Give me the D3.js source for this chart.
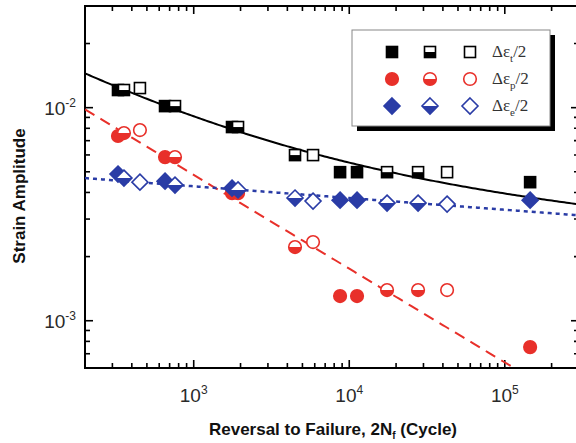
<!DOCTYPE html>
<html><head><meta charset="utf-8">
<script src="https://cdn.jsdelivr.net/npm/d3@7"></script>
<style>body{margin:0;background:#fff}svg{display:block}</style>
</head><body><svg id="c" width="576" height="443"></svg>
<script>
// ---- data ----
const cycles        = [326, 356, 451, 654, 758, 1763, 1927, 4480, 5850, 8730, 11220, 17500, 27700, 42560, 145500];
const markerFill    = ["filled","half","open","filled","half","filled","half","half","open","filled","filled","half","half","open","filled"];
const totalStrain   = [0.0121, 0.0121, 0.01236, 0.01017, 0.01017, 0.00811, 0.00811, 0.00599, 0.00599, 0.00498, 0.00498, 0.00498, 0.00498, 0.00498, 0.00447];
const plasticStrain = [0.00736, 0.0076, 0.00785, 0.00586, 0.00586, 0.00397, 0.00397, 0.002216, 0.00234, 0.001305, 0.001305, 0.001393, 0.001393, 0.001393, 0.000752];
const elasticStrain = [0.00488, 0.00467, 0.00447, 0.00452, 0.00433, 0.00419, 0.00411, 0.003765, 0.003643, 0.00368, 0.00368, 0.003565, 0.003565, 0.003527, 0.00368];
// fitted Basquin / Coffin-Manson parameters
const elasticCoef = 0.00625, elasticExp = -0.055;
const plasticCoef = 0.101,   plasticExp = -0.44;
const xTickLabels = [3, 4, 5];
const yTickLabels = [-3, -2];
const legendLabels = ["t", "p", "e"];

const m = {left: 85, top: 6, right: 579, bottom: 368};
const svg = d3.select("#c");
const x = d3.scaleLog().domain([200, 3e5]).range([m.left, m.right]);
const y = d3.scaleLog().domain([6e-4, 3e-2]).range([m.bottom, m.top]);

const RED = "#e8302a", BLUE = "#2a3ca6";

svg.append("clipPath").attr("id","clip").append("rect")
  .attr("x", m.left).attr("y", m.top).attr("width", m.right - m.left).attr("height", m.bottom - m.top);

function minorMajor(domain){
  const out = [];
  for (let e = Math.floor(Math.log10(domain[0])); e <= Math.ceil(Math.log10(domain[1])); e++){
    for (let k = 1; k <= 9; k++){
      const v = k * Math.pow(10, e);
      if (v >= domain[0]*0.999 && v <= domain[1]*1.001) out.push({v, major: k === 1});
    }
  }
  return out;
}
const axes = svg.append("g").attr("stroke","#000").attr("stroke-width",1.6);
minorMajor(x.domain()).forEach(t => {
  const px = x(t.v), L = t.major ? 8 : 5;
  axes.append("line").attr("x1",px).attr("x2",px).attr("y1",m.bottom).attr("y2",m.bottom-L);
  axes.append("line").attr("x1",px).attr("x2",px).attr("y1",m.top).attr("y2",m.top+L);
});
minorMajor(y.domain()).forEach(t => {
  const py = y(t.v), L = t.major ? 8 : 5;
  axes.append("line").attr("y1",py).attr("y2",py).attr("x1",m.left).attr("x2",m.left+L);
  axes.append("line").attr("y1",py).attr("y2",py).attr("x1",m.right).attr("x2",m.right-L);
});
svg.append("rect").attr("x",m.left).attr("y",m.top).attr("width",m.right-m.left).attr("height",m.bottom-m.top)
  .attr("fill","none").attr("stroke","#000").attr("stroke-width",2);

const tl = svg.append("g").attr("font-family","'Liberation Sans', Arial, sans-serif").attr("fill","#2a2a2a");
xTickLabels.forEach(e => {
  const t = tl.append("text").attr("x", x(Math.pow(10,e))).attr("y", 402).attr("text-anchor","middle").attr("font-size",19);
  t.append("tspan").text("10");
  t.append("tspan").attr("dy",-8).attr("font-size",12).text(e);
});
yTickLabels.forEach(e => {
  const t = tl.append("text").attr("x", 76).attr("y", y(Math.pow(10,e)) + 7).attr("text-anchor","end").attr("font-size",19);
  t.append("tspan").text("10");
  t.append("tspan").attr("dy",-8).attr("font-size",12).text(e);
});

const xt = svg.append("text").attr("x", 333).attr("y", 435).attr("text-anchor","middle")
  .attr("font-family","'Liberation Sans', Arial, sans-serif").attr("font-weight","bold").attr("font-size",17).attr("fill","#111");
xt.append("tspan").text("Reversal to Failure, 2N");
xt.append("tspan").attr("dy",4).attr("font-size",10).text("f");
xt.append("tspan").attr("dy",-4).text(" (Cycle)");
svg.append("text").attr("transform","translate(25,196) rotate(-90)").attr("text-anchor","middle")
  .attr("font-family","'Liberation Sans', Arial, sans-serif").attr("font-weight","bold").attr("font-size",17).attr("fill","#111")
  .text("Strain Amplitude");

const Ns = d3.range(0, 201).map(i => Math.pow(10, Math.log10(200) + i*(Math.log10(3e5)-Math.log10(200))/200));
const elastic = N => elasticCoef * Math.pow(N, elasticExp);
const plastic = N => plasticCoef * Math.pow(N, plasticExp);
const lineG = svg.append("g").attr("clip-path","url(#clip)").attr("fill","none");
const gen = f => d3.line().x(N => x(N)).y(N => y(f(N)))(Ns);
lineG.append("path").attr("d", gen(plastic)).attr("stroke",RED).attr("stroke-width",2).attr("stroke-dasharray","11,7");
lineG.append("path").attr("d", gen(elastic)).attr("stroke",BLUE).attr("stroke-width",2.5).attr("stroke-dasharray","4,4");
lineG.append("path").attr("d", gen(N => elastic(N)+plastic(N))).attr("stroke","#000").attr("stroke-width",2);

function square(g, cx, cy, type, col){
  const s = 11;
  g.append("rect").attr("x",cx-s/2).attr("y",cy-s/2).attr("width",s).attr("height",s)
    .attr("fill", type==="filled"?col:"#fff").attr("stroke",col).attr("stroke-width",1.6);
  if (type==="half") g.append("rect").attr("x",cx-s/2).attr("y",cy).attr("width",s).attr("height",s/2).attr("fill",col);
}
function circle(g, cx, cy, type, col){
  const r = 6.3;
  g.append("circle").attr("cx",cx).attr("cy",cy).attr("r",r)
    .attr("fill", type==="filled"?col:"#fff").attr("stroke",col).attr("stroke-width",1.6);
  if (type==="half") g.append("path").attr("d",`M${cx-r},${cy} A${r},${r} 0 0 0 ${cx+r},${cy} Z`).attr("fill",col);
}
function diamond(g, cx, cy, type, col){
  const r = 8;
  g.append("path").attr("d",`M${cx},${cy-r} L${cx+r},${cy} L${cx},${cy+r} L${cx-r},${cy} Z`)
    .attr("fill", type==="filled"?col:"#fff").attr("stroke",col).attr("stroke-width",1.6).attr("stroke-linejoin","miter");
  if (type==="half") g.append("path").attr("d",`M${cx-r},${cy} L${cx+r},${cy} L${cx},${cy+r} Z`).attr("fill",col);
}
const mk = svg.append("g");
cycles.forEach((N,i) => square(mk, x(N), y(totalStrain[i]), markerFill[i], "#000"));
cycles.forEach((N,i) => circle(mk, x(N), y(plasticStrain[i]), markerFill[i], RED));
cycles.forEach((N,i) => diamond(mk, x(N), y(elasticStrain[i]), markerFill[i], BLUE));

const lg = svg.append("g");
lg.append("rect").attr("x",357).attr("y",35).attr("width",198).attr("height",96).attr("fill","#000");
lg.append("rect").attr("x",352).attr("y",30).attr("width",198).attr("height",96).attr("fill","#fff").attr("stroke","#888").attr("stroke-width",1);
const legFns = [square, circle, diamond], legCols = ["#000", RED, BLUE], legY = [52, 79, 106];
const legTypes = ["filled","half","open"], legX = [392, 430, 470];
legendLabels.forEach((s,r) => {
  legTypes.forEach((t,c) => legFns[r](lg, legX[c], legY[r], t, legCols[r]));
  const tx = lg.append("text").attr("x",492).attr("y",legY[r]+5).attr("font-family","'Liberation Serif', 'Times New Roman', serif")
    .attr("font-size",17).attr("fill","#333");
  tx.append("tspan").text("Δε");
  tx.append("tspan").attr("dy",5).attr("font-size",11).text(s);
  tx.append("tspan").attr("dy",-5).text("/2");
});
</script></body></html>
